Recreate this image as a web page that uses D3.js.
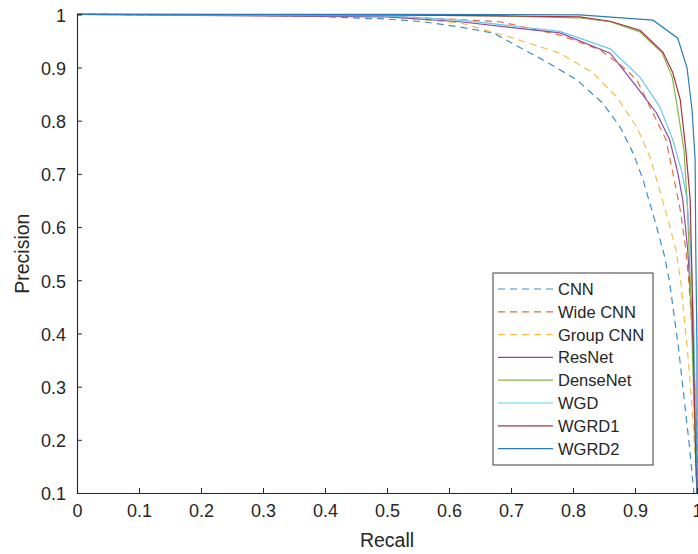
<!DOCTYPE html>
<html>
<head>
<meta charset="utf-8">
<script src="https://cdn.jsdelivr.net/npm/d3@7"></script>
<style>
  body { margin: 0; background: #fff; }
  text { font-family: "Liberation Sans", Arial, sans-serif; fill: #262626; }
</style>
</head>
<body>
<svg id="chart"></svg>
<script>
const width = 698;
const height = 554;

// [recall, precision]
const cnn = [[0,1],[0.2,0.999],[0.36,0.997],[0.5,0.991],[0.558,0.986],[0.618,0.976],[0.671,0.965],[0.698,0.948],[0.752,0.914],[0.806,0.877],[0.848,0.833],[0.876,0.788],[0.897,0.739],[0.913,0.689],[0.933,0.608],[0.948,0.544],[0.956,0.495],[0.97,0.374],[0.979,0.28],[0.988,0.186],[0.995,0.1]];
const wideCnn = [[0,1],[0.5,0.997],[0.682,0.986],[0.779,0.961],[0.844,0.933],[0.876,0.905],[0.903,0.877],[0.924,0.826],[0.95,0.764],[0.961,0.702],[0.973,0.632],[0.982,0.557],[0.987,0.495],[0.994,0.374],[0.997,0.28],[1,0.187],[1,0.1]];
const groupCnn = [[0,1],[0.36,0.998],[0.5,0.995],[0.618,0.984],[0.698,0.957],[0.779,0.927],[0.832,0.89],[0.871,0.844],[0.903,0.788],[0.924,0.732],[0.935,0.689],[0.952,0.619],[0.966,0.557],[0.974,0.495],[0.984,0.375],[0.991,0.28],[0.996,0.187],[1,0.1]];
const resNet = [[0,1],[0.5,0.995],[0.618,0.986],[0.779,0.965],[0.86,0.927],[0.903,0.863],[0.935,0.814],[0.956,0.764],[0.969,0.702],[0.977,0.651],[0.985,0.557],[0.992,0.425],[0.997,0.275],[1,0.1]];
const denseNet = [[0,1],[0.5,0.999],[0.682,0.997],[0.811,0.993],[0.86,0.986],[0.908,0.967],[0.944,0.927],[0.96,0.882],[0.969,0.82],[0.979,0.745],[0.984,0.651],[0.989,0.501],[0.994,0.313],[0.998,0.162],[1,0.1]];
const wgd = [[0,1],[0.5,0.997],[0.618,0.989],[0.779,0.968],[0.86,0.935],[0.908,0.882],[0.94,0.826],[0.961,0.764],[0.976,0.702],[0.984,0.651],[0.99,0.557],[0.995,0.407],[0.998,0.237],[1,0.1]];
const wgrd1 = [[0,1],[0.5,0.999],[0.682,0.997],[0.811,0.995],[0.86,0.987],[0.908,0.97],[0.945,0.929],[0.961,0.89],[0.973,0.839],[0.982,0.745],[0.989,0.651],[0.992,0.501],[0.995,0.313],[0.998,0.162],[1,0.1]];
const wgrd2 = [[0,1],[0.5,1],[0.811,0.999],[0.929,0.989],[0.969,0.955],[0.984,0.899],[0.992,0.82],[0.997,0.726],[0.998,0.557],[1,0.369],[1,0.1]];

const names = ["CNN", "Wide CNN", "Group CNN", "ResNet", "DenseNet", "WGD", "WGRD1", "WGRD2"];
const xTicks = [0, 0.1, 0.2, 0.3, 0.4, 0.5, 0.6, 0.7, 0.8, 0.9, 1];
const yTicks = [0.1, 0.2, 0.3, 0.4, 0.5, 0.6, 0.7, 0.8, 0.9, 1];

const series = [cnn, wideCnn, groupCnn, resNet, denseNet, wgd, wgrd1, wgrd2];
const colors = ["#3d8ec9", "#e0703f", "#f0bf4c", "#8e4a9c", "#84b548", "#6cc7ee", "#a8323f", "#2a7db8"];
const dashed = [true, true, true, false, false, false, false, false];

const margin = {top: 14.3, right: 1, bottom: 61, left: 77};

const svg = d3.select("#chart")
    .attr("width", width)
    .attr("height", height);

const x = d3.scaleLinear().domain([0, 1]).range([margin.left, width - margin.right]);
const y = d3.scaleLinear().domain([0.1, 1]).range([height - margin.bottom, margin.top]);

svg.append("defs").append("clipPath").attr("id", "plot")
    .append("rect")
    .attr("x", margin.left).attr("y", margin.top - 2)
    .attr("width", width - margin.left).attr("height", height - margin.bottom - margin.top + 4);

const line = d3.line().x(d => x(d[0])).y(d => y(d[1]));

svg.append("g").attr("clip-path", "url(#plot)")
    .selectAll("path")
    .data(series)
    .enter().append("path")
    .attr("d", line)
    .attr("fill", "none")
    .attr("stroke", (d, i) => colors[i])
    .attr("stroke-width", 1.2)
    .attr("stroke-dasharray", (d, i) => dashed[i] ? "7,5" : null);

// axes, MATLAB style: ticks inside, no box
const xAxis = svg.append("g")
    .attr("transform", `translate(0,${y(0.1)})`)
    .call(d3.axisBottom(x).tickValues(xTicks).tickSize(-5).tickPadding(11).tickFormat(d3.format("~g")));
const yAxis = svg.append("g")
    .attr("transform", `translate(${x(0)},0)`)
    .call(d3.axisLeft(y).tickValues(yTicks).tickSize(-5).tickPadding(11).tickFormat(d3.format("~g")));

[xAxis, yAxis].forEach(a => {
    a.select(".domain").attr("stroke", "#262626").attr("stroke-width", 1.1);
    a.selectAll(".tick line").attr("stroke", "#262626");
    a.selectAll(".tick text").attr("font-size", 18).attr("fill", "#333").style("font-family", "Liberation Sans, Arial, sans-serif");
});
yAxis.selectAll(".tick text").attr("dy", "0.38em");

svg.append("text")
    .attr("x", x(0.5))
    .attr("y", 547)
    .attr("text-anchor", "middle")
    .attr("font-size", 19.5)
    .text("Recall");

svg.append("text")
    .attr("transform", `translate(29,${y(0.55)}) rotate(-90)`)
    .attr("text-anchor", "middle")
    .attr("font-size", 19.5)
    .text("Precision");

// legend
const legend = svg.append("g");
legend.append("rect")
    .attr("x", 493).attr("y", 273)
    .attr("width", 160).attr("height", 192)
    .attr("fill", "#fff")
    .attr("stroke", "#262626")
    .attr("stroke-width", 0.9);

const item = legend.selectAll(".item")
    .data(names)
    .enter().append("g")
    .attr("class", "item")
    .attr("transform", (d, i) => `translate(0,${289 + i * 22.8})`);

item.append("line")
    .attr("x1", 498).attr("x2", 553)
    .attr("stroke", (d, i) => colors[i])
    .attr("stroke-width", 1.2)
    .attr("stroke-dasharray", (d, i) => dashed[i] ? "7,5" : null);

item.append("text")
    .attr("x", 558)
    .attr("dy", "0.36em")
    .attr("font-size", 16.5)
    .text(d => d);
</script>
</body>
</html>
